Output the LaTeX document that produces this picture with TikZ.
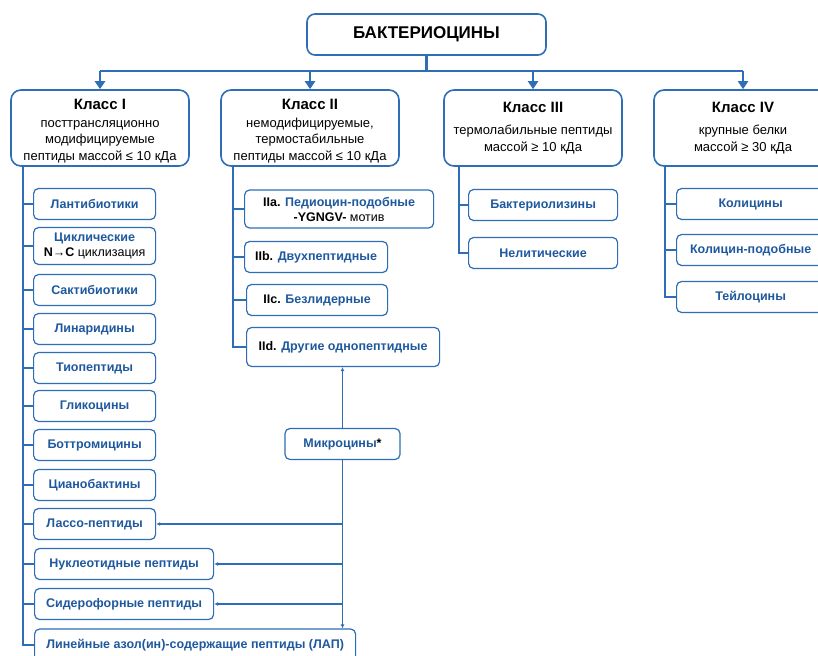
\documentclass[tikz,border=0pt]{standalone}
\usepackage{fontspec}
\setmainfont{Liberation Sans}
\usepackage{tikz}
\usetikzlibrary{positioning,arrows.meta}

\definecolor{frameblue}{RGB}{46,110,182}
\definecolor{textblue}{RGB}{30,88,158}

\tikzset{
  rootbox/.style={draw=frameblue, line width=1.6pt, rounded corners=8pt,
    minimum width=239pt, minimum height=41pt, font=\fontsize{17}{20}\selectfont\bfseries},
  classbox/.style={draw=frameblue, line width=1.6pt, rounded corners=10pt,
    minimum width=178pt, minimum height=76pt, align=center, inner sep=2pt,
    font=\fontsize{13}{16.5}\selectfont},
  subbox/.style={draw=frameblue, line width=1.2pt, rounded corners=5pt,
    minimum height=31pt, align=center, inner sep=2pt, anchor=west,
    text=textblue, font=\fontsize{12.5}{15}\selectfont\bfseries},
  link/.style={draw=frameblue, line width=2.2pt},
  spine/.style={draw=frameblue, line width=1.6pt},
  feed/.style={draw=frameblue, line width=1.3pt, -{Latex[length=4pt,width=4pt]}},
}
\newcommand{\klass}[1]{{\fontsize{15}{18}\selectfont\bfseries #1}}

\begin{document}
\begin{tikzpicture}[x=1pt,y=-1pt]
    \clip (0,0) rectangle (818,655);
    \fill[white] (0,0) rectangle (818,655);

    % Top
    \node[rootbox] (root) at (426.5,34.5) {БАКТЕРИОЦИНЫ};

    % Classes
    \node[classbox] (k1) at (100,128) {\rule{0pt}{17pt}\klass{Класс I}\\[1pt]
        посттрансляционно\\ модифицируемые\\ пептиды массой ≤ 10 кДа};
    \node[classbox] (k2) at (310,128) {\rule{0pt}{17pt}\klass{Класс II}\\[1pt]
        немодифицируемые,\\ термостабильные\\ пептиды массой ≤ 10 кДа};
    \node[classbox] (k3) at (533,128) {\klass{Класс III}\\[6pt]
        термолабильные пептиды\\ массой ≥ 10 кДа};
    \node[classbox] (k4) at (743,128) {\klass{Класс IV}\\[6pt]
        крупные белки\\ массой ≥ 30 кДа};

    % Class I
    \node[subbox, minimum width=122pt] (a1) at (33,204) {Лантибиотики};
    \node[subbox, minimum width=122pt, minimum height=37pt] (a2) at (33,246)
        {Циклические\\ \textcolor{black}{N→C \mdseries циклизация}};
    \node[subbox, minimum width=122pt] (a3) at (33,290) {Сактибиотики};
    \node[subbox, minimum width=122pt] (a4) at (33,329) {Линаридины};
    \node[subbox, minimum width=122pt] (a5) at (33,368) {Тиопептиды};
    \node[subbox, minimum width=122pt] (a6) at (33,406) {Гликоцины};
    \node[subbox, minimum width=122pt] (a7) at (33,445) {Боттромицины};
    \node[subbox, minimum width=122pt] (a8) at (33,485) {Цианобактины};
    \node[subbox, minimum width=122pt] (a9) at (33,524) {Лассо-пептиды};
    \node[subbox, minimum width=179pt] (a10) at (34,564) {Нуклеотидные пептиды};
    \node[subbox, minimum width=179pt] (a11) at (34,604) {Сидерофорные пептиды};
    \node[subbox, minimum width=321pt, minimum height=32pt] (a12) at (34,645)
        {Линейные азол(ин)-содержащие пептиды (ЛАП)};

    % Class II
    \node[subbox, minimum width=189pt, minimum height=38pt] (b1) at (244,209)
        {\textcolor{black}{IIa.} Педиоцин-подобные\\
         \textcolor{black}{-YGNGV- \mdseries мотив}};
    \node[subbox, minimum width=143pt] (b2) at (244,257) {\textcolor{black}{IIb.} Двухпептидные};
    \node[subbox, minimum width=141pt] (b3) at (246,300) {\textcolor{black}{IIc.} Безлидерные};
    \node[subbox, minimum width=193pt, minimum height=39pt] (b4) at (246,347)
        {\textcolor{black}{IId.} Другие однопептидные};

    % Microcins
    \node[subbox, minimum width=115pt, anchor=center] (mc) at (342.5,444)
        {Микроцины\textcolor{black}{*}};

    % Class III
    \node[subbox, minimum width=149pt] (c1) at (468,205) {Бактериолизины};
    \node[subbox, minimum width=149pt] (c2) at (468,253) {Нелитические};

    % Class IV
    \node[subbox, minimum width=148pt] (d1) at (676,204) {Колицины};
    \node[subbox, minimum width=148pt] (d2) at (676,250) {Колицин-подобные};
    \node[subbox, minimum width=148pt] (d3) at (676,297) {Тейлоцины};

    % Top arrows
    \draw[link] (root.south) -- ++(0,15) coordinate (hub);
    \draw[link] (k1.north |- hub) -- (k4.north |- hub);
    \foreach \k in {k1,k2,k3,k4}
        \draw[link, -{Triangle[length=8pt,width=10pt]}] (\k.north |- hub) -- (\k.north);

    % Spines
    \coordinate (sa) at ([xshift=13pt]k1.south west);
    \coordinate (sb) at ([xshift=13pt]k2.south west);
    \coordinate (sc) at ([xshift=16pt]k3.south west);
    \coordinate (sd) at ([xshift=12pt]k4.south west);
    \draw[spine] (sa) |- (a12.west);
    \foreach \n in {a1,a2,a3,a4,a5,a6,a7,a8,a9,a10,a11}
        \draw[spine] (\n.west -| sa) -- (\n.west);
    \draw[spine] (sb) |- (b4.west);
    \foreach \n in {b1,b2,b3}
        \draw[spine] (\n.west -| sb) -- (\n.west);
    \draw[spine] (sc) |- (c2.west);
    \draw[spine] (c1.west -| sc) -- (c1.west);
    \draw[spine] (sd) |- (d3.west);
    \foreach \n in {d1,d2}
        \draw[spine] (\n.west -| sd) -- (\n.west);

    % Microcin links
    \draw[feed] (mc.north) -- (mc.north |- b4.south);
    \draw[feed] (mc.south) -- (mc.south |- a12.north);
    \foreach \n in {a9,a10,a11}
        \draw[feed] (mc.south |- \n.east) -- (\n.east);
\end{tikzpicture}
\end{document}
